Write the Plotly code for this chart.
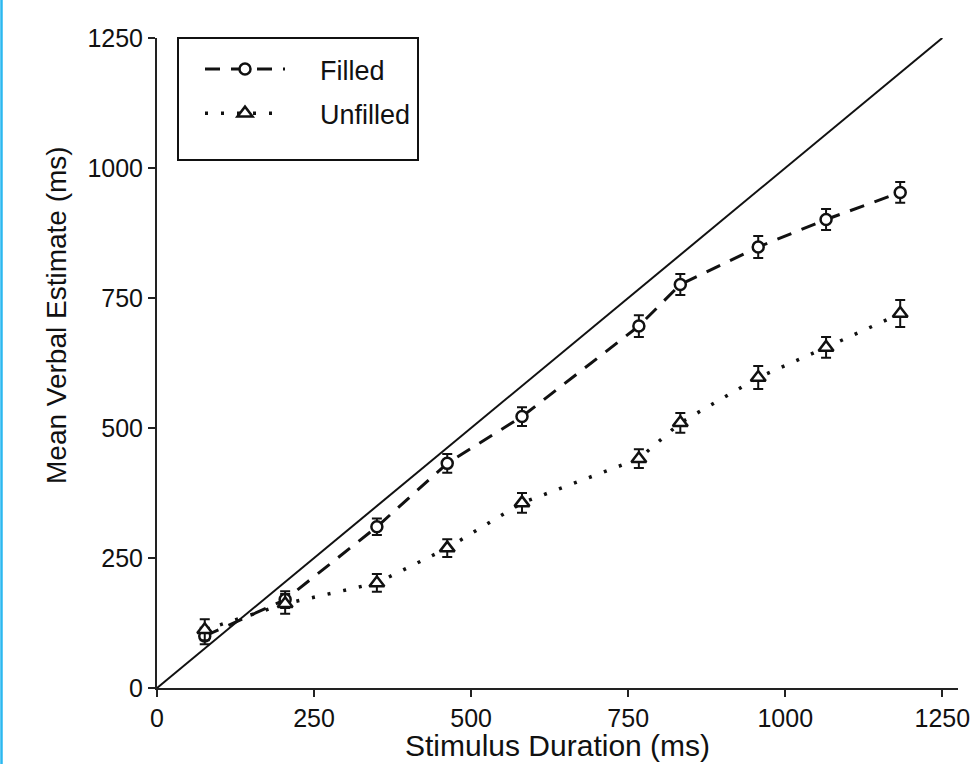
import plotly.graph_objects as go

# ---- data ----
durations = [76, 204, 350, 462, 581, 767, 833, 957, 1065, 1183]
filled_mean = [100, 170, 310, 432, 522, 696, 776, 848, 901, 953]
filled_err = [16, 16, 16, 18, 18, 21, 20, 21, 20, 20]
unfilled_mean = [112, 162, 202, 269, 356, 441, 510, 597, 655, 720]
unfilled_err = [20, 19, 17, 17, 19, 18, 19, 22, 20, 26]
identity_x = [0, 1250]
identity_y = [0, 1250]
tick_vals = [0, 250, 500, 750, 1000, 1250]

FONT = "Liberation Sans, Arial, sans-serif"
INK = "#111111"
NB = "\u00a0"

fig = go.Figure()

fig.add_trace(go.Scatter(
    x=identity_x, y=identity_y, mode="lines",
    line=dict(color=INK, width=2), showlegend=False, hoverinfo="skip"))

fig.add_trace(go.Scatter(
    x=durations, y=filled_mean, mode="lines+markers", name=NB * 4 + "Filled",
    line=dict(color=INK, width=3, dash="15px,11px"),
    marker=dict(symbol="circle", size=11, color="white",
                line=dict(color=INK, width=2.5)),
    error_y=dict(type="data", array=filled_err, visible=True,
                 color=INK, thickness=2, width=5),
    legendgroup="a"))

fig.add_trace(go.Scatter(
    x=durations, y=unfilled_mean, mode="lines+markers", name=NB * 4 + "Unfilled",
    line=dict(color=INK, width=3.5, dash="3px,13px"),
    marker=dict(symbol="triangle-up", size=13, color="white",
                line=dict(color=INK, width=2.5)),
    error_y=dict(type="data", array=unfilled_err, visible=True,
                 color=INK, thickness=2, width=5),
    legendgroup="b"))

L, R, T, B = 157, 15, 38, 76
W, H = 973, 764
pw, ph = W - L - R, H - T - B

axis_common = dict(
    showgrid=False, zeroline=False, showline=True, linecolor="#222222",
    linewidth=2, ticks="outside", ticklen=7, tickwidth=2, tickcolor="#222222",
    tickvals=tick_vals, tickfont=dict(family=FONT, size=25, color=INK),
    automargin=False,
)

fig.update_layout(
    width=W, height=H,
    margin=dict(l=L, r=R, t=T, b=B, autoexpand=False),
    paper_bgcolor="white", plot_bgcolor="white",
    xaxis=dict(range=[0, 1275], **axis_common),
    yaxis=dict(range=[0, 1250], **axis_common),
    legend=dict(x=(200 - L) / pw, y=1 - (45 - T) / ph, xanchor="left", yanchor="top",
                bgcolor="rgba(0,0,0,0)", borderwidth=0,
                font=dict(family=FONT, size=27, color=INK),
                itemwidth=80, traceorder="grouped", tracegroupgap=6),
    annotations=[
        dict(text="Stimulus Duration (ms)", xref="paper", yref="paper",
             x=(557 - L) / pw, y=-(745 - (H - B)) / ph, xanchor="center", yanchor="middle",
             showarrow=False, borderpad=0,
             font=dict(family=FONT, size=30, color=INK)),
        dict(text="Mean Verbal Estimate (ms)", xref="paper", yref="paper",
             x=(57 - L) / pw, y=1 - (315 - T) / ph, xanchor="center", yanchor="middle",
             textangle=-90, showarrow=False, font=dict(family=FONT, size=28, color=INK)),
    ],
    shapes=[
        dict(type="rect", xref="paper", yref="paper",
             x0=(178 - L) / pw, x1=(418 - L) / pw,
             y0=1 - (160 - T) / ph, y1=1.0,
             line=dict(color=INK, width=2)),
        dict(type="line", xref="paper", yref="paper",
             x0=(1.5 - L) / pw, x1=(1.5 - L) / pw,
             y0=-B / ph, y1=1 + T / ph,
             line=dict(color="#2BB8F0", width=2.5)),
    ],
)

fig.write_html("out.html", config={"displayModeBar": False},
               post_script="document.body.style.margin='0px';")
